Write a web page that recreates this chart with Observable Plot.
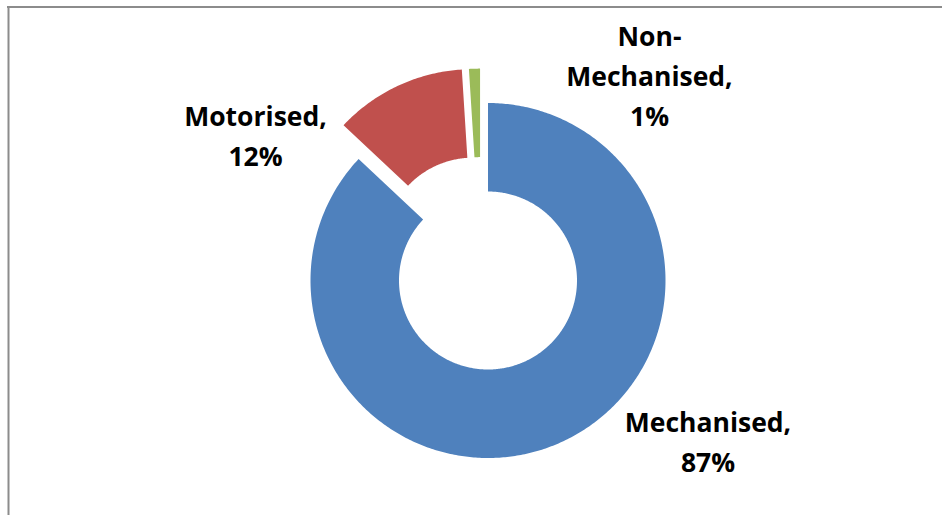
<!DOCTYPE html>
<html><head><meta charset="utf-8">
<script src="https://cdn.jsdelivr.net/npm/d3@7"></script>
<script src="https://cdn.jsdelivr.net/npm/@observablehq/plot@0.6"></script>
<style>html,body{margin:0;padding:0;background:#fff;overflow:hidden}</style>
</head><body><div id="chart"></div>
<script>
// ---- data ----
const categories = ["Mechanised", "Motorised", "Non-Mechanised"];
const shares = [87, 12, 1];
const labelTexts = ["Mechanised,\n87%", "Motorised,\n12%", "Non-\nMechanised,\n1%"];
const colors = ["#4F81BD", "#C0504D", "#9BBB59"];

// ---- layout ----
const W = 942, H = 515;
const cx = 487.5, cy = 280, rOuter = 177.5, rInner = 89;
const explodeDist = [0, 37, 35.3];
const explodeAngle = [0, 336, 347]; // degrees clockwise from north
const labelOffset = [[220, 159], [-232.5, -147], [161.5, -207]];
const fontSize = 26.5;

const pie = d3.pie().sort(null).value(d => d)(shares);
const pts = [];
pie.forEach((p, i) => {
  const ea = explodeAngle[i] * Math.PI / 180;
  const ox = explodeDist[i] * Math.sin(ea), oy = -explodeDist[i] * Math.cos(ea);
  const n = Math.max(8, Math.ceil((p.endAngle - p.startAngle) * 90));
  for (let k = 0; k <= n; k++) {
    const a = p.startAngle + (p.endAngle - p.startAngle) * k / n;
    pts.push({cat: categories[i], x: cx + ox + rOuter * Math.sin(a), y: cy + oy - rOuter * Math.cos(a)});
  }
  for (let k = n; k >= 0; k--) {
    const a = p.startAngle + (p.endAngle - p.startAngle) * k / n;
    pts.push({cat: categories[i], x: cx + ox + rInner * Math.sin(a), y: cy + oy - rInner * Math.cos(a)});
  }
});
const labels = categories.map((c, i) => ({
  text: labelTexts[i], x: cx + labelOffset[i][0], y: cy + labelOffset[i][1]
}));

const chart = Plot.plot({
  width: W, height: H,
  margin: 0,
  x: {domain: [0, W], range: [0, W], axis: null},
  y: {domain: [0, H], range: [0, H], axis: null},
  color: {domain: categories, range: colors},
  style: {background: "#fff"},
  marks: [
    Plot.ruleX([8], {y1: 6, y2: H, stroke: "#8c8c8c", strokeWidth: 2}),
    Plot.ruleY([6.5], {x1: 7, x2: W, stroke: "#8c8c8c", strokeWidth: 2}),
    Plot.line(pts, {x: "x", y: "y", z: "cat", fill: "cat", stroke: "none", curve: "linear-closed"}),
    Plot.text(labels, {x: "x", y: "y", text: "text", fontFamily: "Open Sans", fontWeight: "bold",
      fontSize, lineHeight: 40 / fontSize, textAnchor: "middle", lineAnchor: "middle", fill: "#000"})
  ]
});
document.getElementById("chart").append(chart);
</script>
</body></html>
